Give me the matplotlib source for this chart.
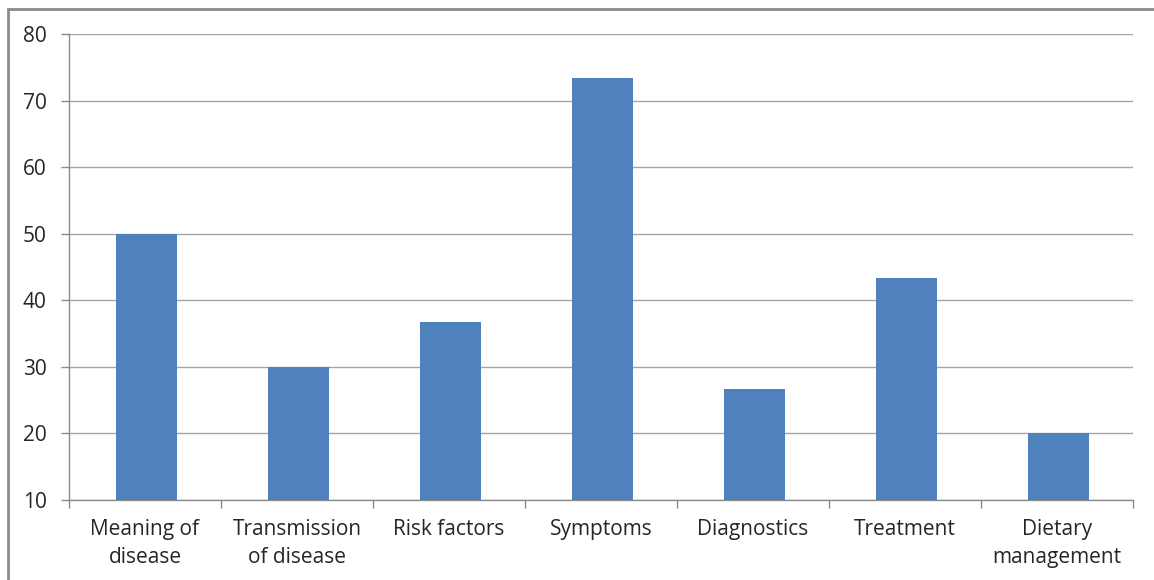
import matplotlib.pyplot as plt
from matplotlib.patches import Rectangle

# Percentage of correct answers per knowledge area
categories = ['Meaning of\ndisease', 'Transmission\nof disease', 'Risk factors',
              'Symptoms', 'Diagnostics', 'Treatment', 'Dietary\nmanagement']
values = [50.0, 30.0, 36.67, 73.33, 26.67, 43.33, 20.0]
yticks = [10, 20, 30, 40, 50, 60, 70, 80]

plt.rcParams['font.family'] = ['Open Sans', 'DejaVu Sans']

fig = plt.figure(figsize=(11.54, 5.80), dpi=100)
ax = fig.add_axes([69 / 1154, 80 / 580, 1064 / 1154, 466 / 580])

x = list(range(len(categories)))
ax.bar([i + 0.01 for i in x], values, width=0.4, color='#4f81bd', zorder=3)

ax.set_xlim(-0.5, len(categories) - 0.5)
ax.set_ylim(10, 80)
ax.set_yticks(yticks)
ax.set_yticklabels([str(v) for v in yticks], fontsize=15, color='#262626')

# category labels centred, ticks on the category boundaries
ax.set_xticks(x)
ax.set_xticklabels(categories, fontsize=15, color='#262626', linespacing=1.4)
ax.tick_params(axis='x', length=0, pad=14)
ax.set_xticks([i - 0.5 for i in range(len(categories) + 1)], minor=True)
ax.tick_params(axis='x', which='minor', length=6, color='#8c8c8c', width=1)
ax.tick_params(axis='y', length=6, color='#8c8c8c', width=1, pad=10)

ax.grid(axis='y', color='#a6a6a6', linewidth=1, zorder=0)
for side in ['top', 'right']:
    ax.spines[side].set_visible(False)
for side in ['left', 'bottom']:
    ax.spines[side].set_color('#8c8c8c')
    ax.spines[side].set_linewidth(1)

# outer frame around the chart area
frame = Rectangle((8 / 1154, -0.05), 1.2, (571 / 580) + 0.05,
                  transform=fig.transFigure, fill=False,
                  edgecolor='#8a8a8a', linewidth=2)
fig.patches.append(frame)

fig.savefig('out.png', dpi=100)
